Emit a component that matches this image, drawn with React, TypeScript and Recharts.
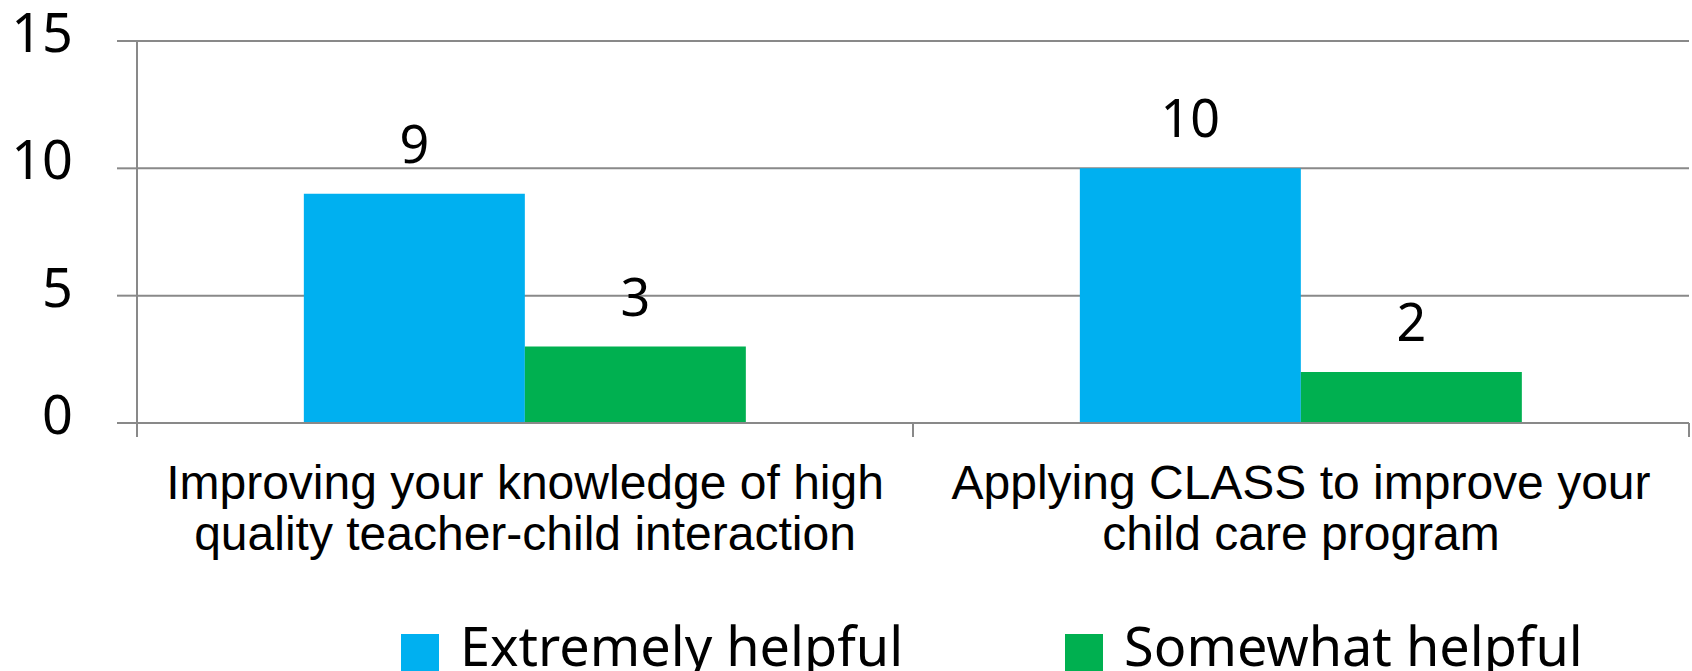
import { BarChart, Bar, XAxis, YAxis, CartesianGrid, LabelList } from "recharts"

const categories = [
  ["Improving your knowledge of high", "quality teacher-child interaction"],
  ["Applying CLASS to improve your", "child care program"],
]
const extremelyHelpful = [9, 10]
const somewhatHelpful = [3, 2]
const yTicks = [0, 5, 10, 15]
const seriesNames = ["Extremely helpful", "Somewhat helpful"]
const seriesColors = ["#00B0F0", "#00B050"]

const W = 1692
const H = 671
const Y_AXIS_W = 137
const MARGIN = { top: 41, right: 3, left: 0, bottom: 98 }
const GRID = "#898989"

const data = categories.map((lines, i) => ({
  name: lines.join(" "),
  lines,
  extremely: extremelyHelpful[i],
  somewhat: somewhatHelpful[i],
}))

const band = (W - MARGIN.left - MARGIN.right - Y_AXIS_W) / categories.length

function CategoryTick(props: any) {
  const { x, y, payload, index } = props
  const lines = data[index]?.lines ?? [payload.value]
  return (
    <g>
      <line x1={x - band / 2} x2={x - band / 2} y1={y} y2={y + 14} stroke={GRID} strokeWidth={2} />
      <line x1={x + band / 2} x2={x + band / 2} y1={y} y2={y + 14} stroke={GRID} strokeWidth={2} />
      <text x={x} y={y + 76} textAnchor="middle" fontFamily="'Liberation Sans', Arial, sans-serif" fontSize={48} fill="#000">
        {lines.map((l: string, i: number) => (
          <tspan key={i} x={x} dy={i === 0 ? 0 : 51}>
            {l}
          </tspan>
        ))}
      </text>
    </g>
  )
}

function ValueTick(props: any) {
  const { x, y, payload } = props
  return (
    <text x={x} y={y} dy={11} textAnchor="end" fontFamily="'Noto Sans', sans-serif" fontSize={54} fill="#000">
      {payload.value}
    </text>
  )
}

export default function App() {
  return (
    <div style={{ position: "absolute", left: 0, top: 0, width: W, height: H, background: "#fff", overflow: "hidden" }}>
      <BarChart width={W} height={H} data={data} margin={MARGIN} barCategoryGap="21.5%" barGap={0}>
        <CartesianGrid horizontal vertical={false} stroke={GRID} strokeWidth={2} />
        <YAxis
          width={Y_AXIS_W}
          domain={[0, 15]}
          ticks={yTicks}
          interval={0}
          tickSize={20}
          tickMargin={44}
          axisLine={{ stroke: GRID, strokeWidth: 2 }}
          tickLine={{ stroke: GRID, strokeWidth: 2 }}
          tick={<ValueTick />}
        />
        <XAxis
          dataKey="name"
          height={150}
          interval={0}
          tickSize={0}
          tickMargin={0}
          axisLine={{ stroke: GRID, strokeWidth: 2 }}
          tickLine={false}
          tick={<CategoryTick />}
        />
        <Bar dataKey="extremely" name={seriesNames[0]} fill={seriesColors[0]} isAnimationActive={false}>
          <LabelList dataKey="extremely" position="top" offset={31} fill="#000" fontSize={52} fontFamily="'Noto Sans', sans-serif" />
        </Bar>
        <Bar dataKey="somewhat" name={seriesNames[1]} fill={seriesColors[1]} isAnimationActive={false}>
          <LabelList dataKey="somewhat" position="top" offset={31} fill="#000" fontSize={52} fontFamily="'Noto Sans', sans-serif" />
        </Bar>
      </BarChart>
      <div
        style={{
          position: "absolute",
          top: 618,
          left: 401,
          display: "flex",
          alignItems: "flex-start",
          fontFamily: "'Noto Sans', sans-serif",
          fontSize: 54,
          lineHeight: "54px",
          whiteSpace: "nowrap",
        }}
      >
        {seriesNames.map((n, i) => (
          <div key={n} style={{ display: "flex", alignItems: "flex-start", marginRight: 162 }}>
            <div style={{ width: 38, height: 38, background: seriesColors[i], marginTop: 16, marginRight: 21 }} />
            <span>{n}</span>
          </div>
        ))}
      </div>
    </div>
  )
}
